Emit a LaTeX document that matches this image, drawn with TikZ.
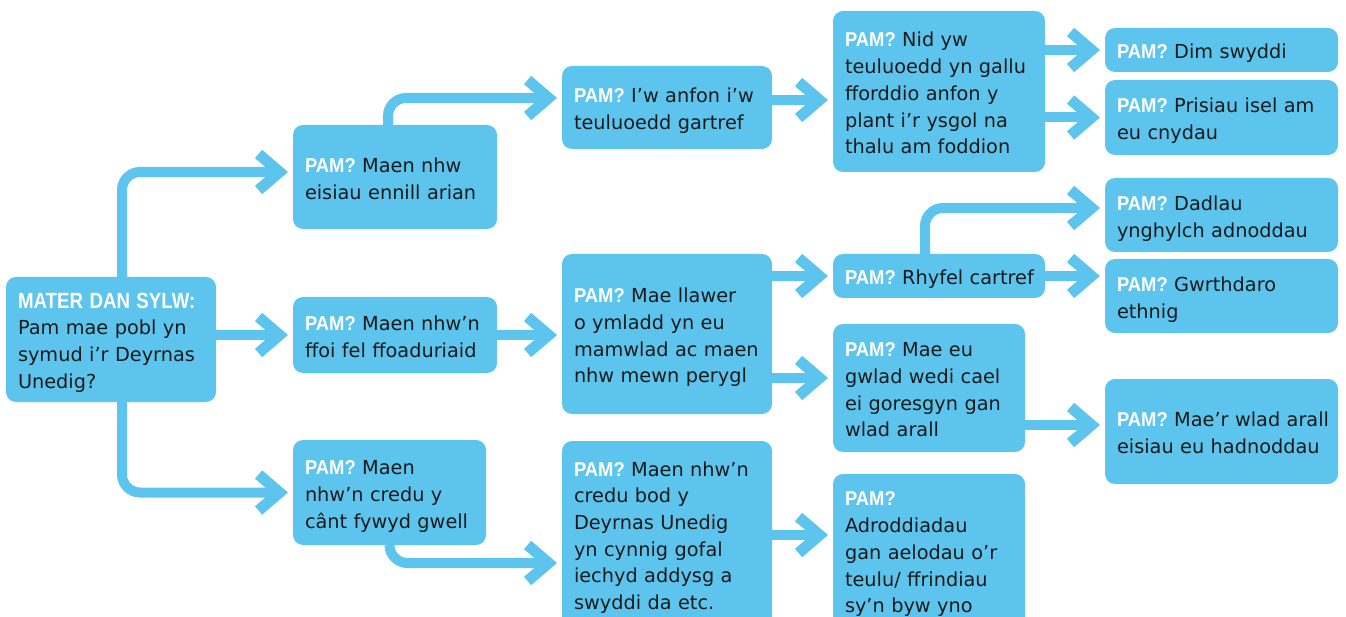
\documentclass[tikz,border=0pt]{standalone}
\usepackage{fontspec}
\setmainfont{DejaVu Sans}
\newfontfamily\pamfont{Liberation Sans}[FakeStretch=0.92]
\newfontfamily\hdrfont{Liberation Sans}[FakeStretch=0.85]
\usetikzlibrary{arrows.meta}
\definecolor{sky}{RGB}{93,196,237}
\definecolor{ink}{RGB}{26,26,26}
\newcommand{\pam}{{\pamfont\bfseries\fontsize{20pt}{26.7pt}\selectfont\color{white}PAM?}}
\newcommand{\hdr}[1]{{\hdrfont\bfseries\fontsize{22pt}{26.7pt}\selectfont\color{white}#1}}
\newcommand{\boxlines}[1]{\raisebox{-3.5pt}[\height][\depth]{\begin{tabular}{@{}l@{}}#1\end{tabular}}}
\tikzset{
  box/.style={fill=sky, rounded corners=10pt, anchor=north west, outer sep=0pt,
    inner xsep=12pt, inner ysep=0pt, align=left, text=ink,
    font=\fontsize{19.3pt}{26.7pt}\selectfont},
  bx/.style n args={2}{box, minimum width=#1pt, minimum height=#2pt, text width=#1pt-24pt},
  conn/.style={draw=sky, line width=10pt, rounded corners=18pt, shorten >=5pt,
    -{Straight Barb[length=21pt,width=36pt,line width=11pt]}}
}
\begin{document}
\begin{tikzpicture}[x=1pt,y=-1pt]
\clip (0,0) rectangle (1346,617);
% level 0
\node[bx={210}{125}] (root) at (6,277) {\boxlines{\hdr{MATER DAN SYLW:}\\Pam mae pobl yn\\symud i’r Deyrnas\\Unedig?}};
% level 1
\node[bx={204}{104}] (b1) at (293,125) {\boxlines{\pam{} Maen nhw\\eisiau ennill arian}};
\node[bx={204}{76}] (b2) at (293,297) {\boxlines{\pam{} Maen nhw’n\\ffoi fel ffoaduriaid}};
\node[bx={193}{105}] (b3) at (293,440) {\boxlines{\pam{} Maen\\nhw’n credu y\\cânt fywyd gwell}};
% level 2
\node[bx={210}{83}] (c1) at (562,66) {\boxlines{\pam{} I’w anfon i’w\\teuluoedd gartref}};
\node[bx={210}{160}] (c2) at (562,254) {\boxlines{\pam{} Mae llawer\\o ymladd yn eu\\mamwlad ac maen\\nhw mewn perygl}};
\node[bx={210}{186}] (c3) at (562,441) {\boxlines{\pam{} Maen nhw’n\\credu bod y\\Deyrnas Unedig\\yn cynnig gofal\\iechyd addysg a\\swyddi da etc.}};
% level 3
\node[bx={212}{161}] (d1) at (833,11) {\boxlines{\pam{} Nid yw\\teuluoedd yn gallu\\fforddio anfon y\\plant i’r ysgol na\\thalu am foddion}};
\node[bx={212}{44}] (d2) at (833,254) {\boxlines{\pam{} Rhyfel cartref}};
\node[bx={192}{128}] (d3) at (833,324) {\boxlines{\pam{} Mae eu\\gwlad wedi cael\\ei goresgyn gan\\wlad arall}};
\node[bx={192}{153}] (d4) at (833,474) {\boxlines{\pam\\Adroddiadau\\gan aelodau o’r\\teulu/ ffrindiau\\sy’n byw yno}};
% level 4
\node[bx={233}{44}] (e1) at (1105,28) {\boxlines{\pam{} Dim swyddi}};
\node[bx={233}{75}] (e2) at (1105,80) {\boxlines{\pam{} Prisiau isel am\\eu cnydau}};
\node[bx={233}{74}] (e3) at (1105,178) {\boxlines{\pam{} Dadlau\\ynghylch adnoddau}};
\node[bx={233}{74}] (e4) at (1105,259) {\boxlines{\pam{} Gwrthdaro\\ethnig}};
\node[bx={233}{105}] (e5) at (1105,379) {\boxlines{\pam{} Mae’r wlad arall\\eisiau eu hadnoddau}};
% helper levels
\coordinate (lvA) at (0,100);
\coordinate (lvB) at (0,378);
\coordinate (lvC) at (0,535);
\coordinate (lvD) at (0,208);
\coordinate (lvE) at (0,425);
\coordinate (lvF) at (0,563);
\coordinate (lvG) at (0,98);
\coordinate (lvH) at (0,172);
% connectors
\draw[conn] ([xshift=11pt]root.north) |- (b1.west |- lvH);
\draw[conn] (root.east |- b2.west) -- (b2.west);
\draw[conn] ([xshift=11pt]root.south) |- (b3.west);
\draw[conn] ([xshift=-7pt]b1.north) |- (c1.west |- lvG);
\draw[conn] (b2.east) -- (b2.east -| c2.west);
\draw[conn] (b3.south) |- (c3.west |- lvF);
\draw[conn] (c1.east |- lvA) -- (d1.west |- lvA);
\draw[conn] (c2.east |- d2.west) -- (d2.west);
\draw[conn] (c2.east |- lvB) -- (d3.west |- lvB);
\draw[conn] (c3.east |- lvC) -- (d4.west |- lvC);
\draw[conn] (d1.east |- e1.west) -- (e1.west);
\draw[conn] (d1.east |- e2.west) -- (e2.west);
\draw[conn] ([xshift=-14pt]d2.north) |- (e3.west |- lvD);
\draw[conn] (d2.east) -- (d2.east -| e4.west);
\draw[conn] (d3.east |- lvE) -- (e5.west |- lvE);
\end{tikzpicture}
\end{document}
